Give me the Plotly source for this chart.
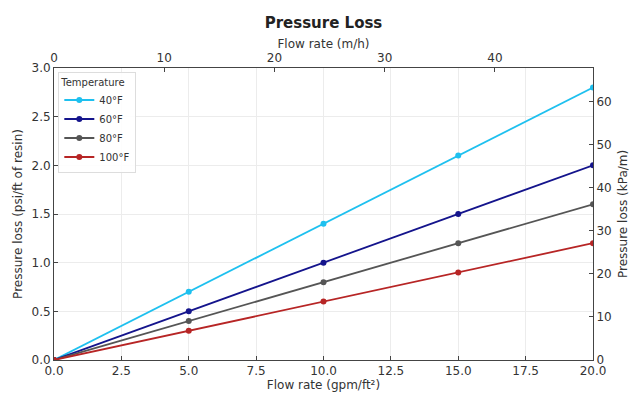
import plotly.graph_objects as go

flow_gpm = [0, 5, 10, 15, 20]
temps = ["40°F", "60°F", "80°F", "100°F"]
loss_40 = [0, 0.7, 1.4, 2.1, 2.8]
loss_60 = [0, 0.5, 1.0, 1.5, 2.0]
loss_80 = [0, 0.4, 0.8, 1.2, 1.6]
loss_100 = [0, 0.3, 0.6, 0.9, 1.2]
colors = ["#1ec0ef", "#14148c", "#555555", "#b72525"]

GPM_TO_MH = 2.445
PSIFT_TO_KPAM = 22.62

fig = go.Figure()
for name, ys, c in zip(temps, [loss_40, loss_60, loss_80, loss_100], colors):
    fig.add_trace(go.Scatter(x=flow_gpm, y=ys, name=name, mode="lines+markers",
                             line=dict(color=c, width=1.8), marker=dict(color=c, size=6)))

# invisible trace to bind secondary axes
fig.add_trace(go.Scatter(x=[v * GPM_TO_MH for v in flow_gpm],
                         y=[v * PSIFT_TO_KPAM for v in loss_40],
                         xaxis="x2", yaxis="y2", mode="lines", opacity=0,
                         showlegend=False, hoverinfo="skip"))

font = "DejaVu Sans"
axcommon = dict(showline=True, linecolor="#444", linewidth=1, ticks="inside", ticklen=4,
                tickcolor="#444", tickfont=dict(family=font, size=12, color="#333"),
                zeroline=False, automargin=False)

fig.update_layout(
    width=631, height=394,
    margin=dict(l=54, r=38, t=68, b=34),
    paper_bgcolor="white", plot_bgcolor="white",
    font=dict(family=font, size=12, color="#333"),
    title=dict(text="<b>Pressure Loss</b>", x=0.5, xanchor="center", xref="paper",
               y=0.943, yanchor="middle", font=dict(family=font, size=15, color="#222")),
    xaxis=dict(range=[0, 20], dtick=2.5, tickformat=".1f", showgrid=True, gridcolor="#ececec",
               title=dict(text="Flow rate (gpm/ft²)", standoff=2, font=dict(size=12)),
               **axcommon),
    yaxis=dict(range=[0, 3.0], dtick=0.5, tickformat=".1f", showgrid=True, gridcolor="#ececec",
               title=dict(text="Pressure loss (psi/ft of resin)", standoff=6, font=dict(size=12)),
               **axcommon),
    xaxis2=dict(range=[0, 20 * GPM_TO_MH], dtick=10, overlaying="x", side="top",
                showgrid=False, anchor="y",
                title=dict(text="Flow rate (m/h)", standoff=0, font=dict(size=12)),
                **axcommon),
    yaxis2=dict(range=[0, 3.0 * PSIFT_TO_KPAM], dtick=10, overlaying="y", side="right",
                showgrid=False, anchor="x", **axcommon),
    annotations=[dict(text="Pressure loss (kPa/m)", xref="paper", yref="paper",
                      x=1.0, y=0.5, xshift=30, textangle=-90, showarrow=False,
                      xanchor="center", yanchor="middle",
                      font=dict(family=font, size=12, color="#333"))],
    legend=dict(x=0.008, y=0.988, xanchor="left", yanchor="top",
                bgcolor="rgba(255,255,255,0.9)", bordercolor="#ddd", borderwidth=1,
                title=dict(text="Temperature", font=dict(size=10)),
                font=dict(size=10), tracegroupgap=0, itemwidth=30),
)

fig.write_html("out.html", config={"displayModeBar": False},
               post_script="document.body.style.margin='0';document.body.style.overflow='hidden';")
